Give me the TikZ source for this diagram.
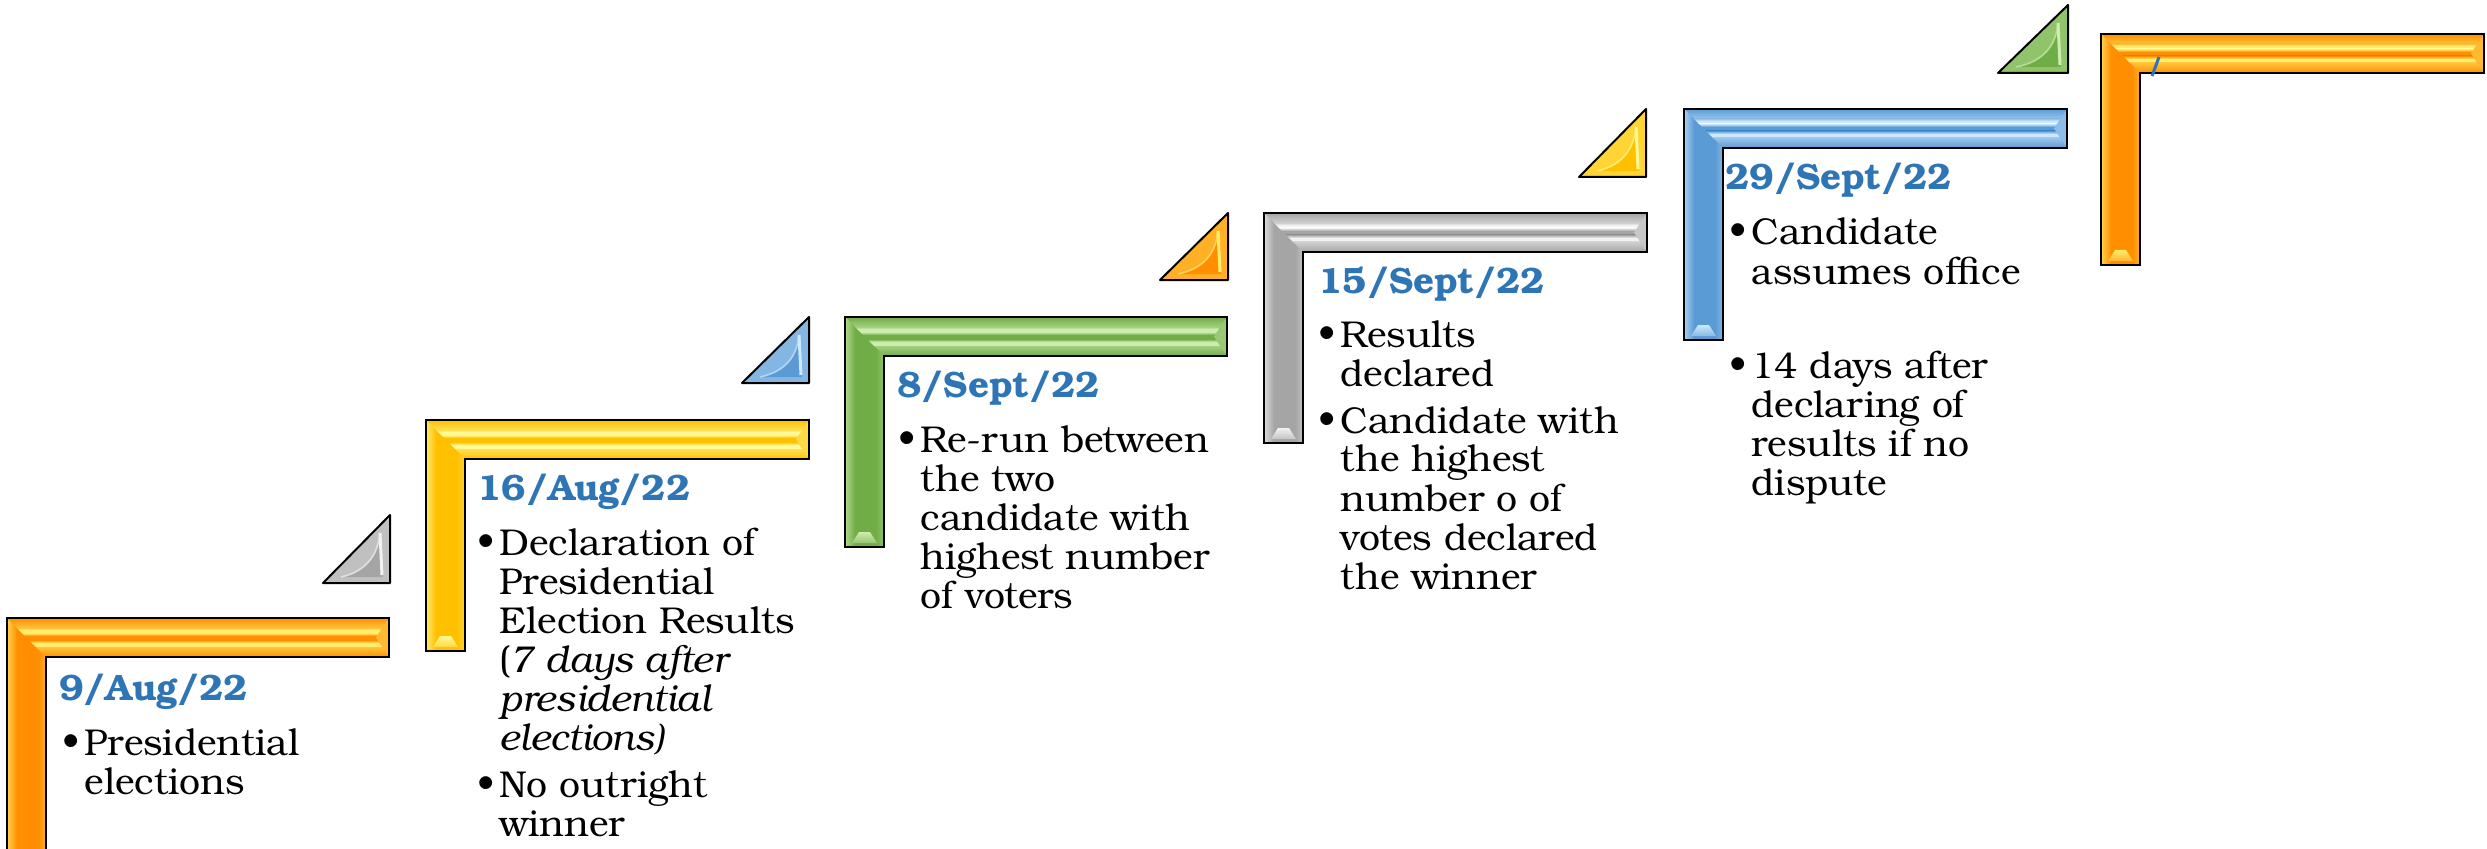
\documentclass[tikz,border=0pt]{standalone}
\usepackage{fontspec}
\setmainfont{TeX Gyre Bonum}
\definecolor{orB}{RGB}{255,143,0}\definecolor{orL}{RGB}{255,238,110}
\definecolor{yeB}{RGB}{255,192,0}\definecolor{yeL}{RGB}{255,250,150}
\definecolor{grB}{RGB}{112,173,71}\definecolor{grL}{RGB}{205,236,175}
\definecolor{gyB}{RGB}{165,165,165}\definecolor{gyL}{RGB}{242,242,242}
\definecolor{blB}{RGB}{91,155,213}\definecolor{blL}{RGB}{205,232,252}
\definecolor{datecol}{RGB}{46,117,182}
\newcommand\bu{\makebox[6.6pt][l]{\textbullet}}
% L-shaped bevelled bar: #1 x0, #2 y0, #3 x1, #4 ybottom, #5 base, #6 light
\newcommand\DrawL[6]{%
  \fill[#5] (#1,#2) -- (#3,#2) -- (#3,{#2+39}) -- ({#1+39},{#2+39}) -- ({#1+39},#4) -- (#1,#4) -- cycle;
  \begin{scope}
    \clip (#1,#2) -- (#3,#2) -- ({#3-13},{#2+19.5}) -- (#3,{#2+39}) -- ({#1+39},{#2+39}) -- cycle;
    \shade[top color=#5, bottom color=#6!55!#5] (#1,#2) rectangle (#3,{#2+10});
    \shade[top color=#6!55!#5, bottom color=#6] (#1,{#2+10}) rectangle (#3,{#2+12});
    \fill[#6] (#1,{#2+12}) rectangle (#3,{#2+15});
    \shade[top color=#6, bottom color=#5] (#1,{#2+15}) rectangle (#3,{#2+18});
    \shade[top color=#5, bottom color=#6] (#1,{#2+22}) rectangle (#3,{#2+25});
    \fill[#6] (#1,{#2+25}) rectangle (#3,{#2+29});
    \shade[top color=#6!55!#5, bottom color=#5] (#1,{#2+29}) rectangle (#3,{#2+39});
  \end{scope}
  \fill[#6!45!#5] (#3,#2) -- ({#3-13},{#2+19.5}) -- (#3,{#2+39}) -- cycle;
  \begin{scope}
    \clip (#1,#2) -- ({#1+39},{#2+39}) -- ({#1+39},#4) -- (#1,#4) -- cycle;
    \shade[left color=#6!70!#5, right color=#5] (#1,#2) rectangle ({#1+10},#4);
    \shade[left color=#5, right color=#6!35!#5] ({#1+31},#2) rectangle ({#1+39},#4);
  \end{scope}
  \shade[top color=#6, bottom color=#6!40!#5] ({#1+14},{#4-15}) -- ({#1+25},{#4-15}) -- ({#1+32},{#4-4}) -- ({#1+7},{#4-4}) -- cycle;
  \draw[line width=0.6pt, black] (#1,#2) -- (#3,#2) -- (#3,{#2+39}) -- ({#1+39},{#2+39}) -- ({#1+39},#4) -- (#1,#4) -- cycle;
}
% right triangle: #1 left, #2 top, #3 right, #4 bottom, #5 base, #6 light
\newcommand\DrawT[6]{%
  \fill[#6!35!#5] (#1,#4) -- (#3,#2) -- (#3,#4) -- cycle;
  \fill[#5] ({#1+18},{#4-6}) .. controls ({#3-22},{#4-12}) and ({#3-12},{#2+38}) .. ({#3-10},{#2+18}) -- ({#3-7},{#4-6}) -- cycle;
  \draw[#6!75!#5, line width=0.5pt] ({#1+18},{#4-6}) .. controls ({#3-22},{#4-12}) and ({#3-12},{#2+38}) .. ({#3-10},{#2+18});
  \draw[#6, line width=0.9pt] ({#3-10},{#2+18}) -- ({#3-8},{#4-8});
  \draw[line width=0.6pt, black, line join=round] (#1,#4) -- (#3,#2) -- (#3,#4) -- cycle;
}
\begin{document}
\begin{tikzpicture}[x=0.3pt, y=-0.3pt,
  datefont/.style={anchor=base west, inner sep=0pt, text=datecol, font=\fontsize{11.0}{12}\selectfont\bfseries},
  txt/.style={anchor=base west, inner sep=0pt, font=\fontsize{11.2}{11.7}\selectfont}]
\useasboundingbox (0,0) rectangle (2487,849);
\begin{scope}
\clip (0,0) rectangle (2487,849);
% bars
\DrawL{7}{618}{389}{880}{orB}{orL}
\DrawL{426}{420}{809}{651}{yeB}{yeL}
\DrawL{845}{317}{1227}{547}{grB}{grL}
\DrawL{1264}{213}{1647}{443}{gyB}{gyL}
\DrawL{1684}{109}{2067}{340}{blB}{blL}
\DrawL{2101}{34}{2484}{265}{orB}{orL}
% triangles
\DrawT{323}{515}{390}{583}{gyB}{gyL}
\DrawT{742}{317}{809}{383}{blB}{blL}
\DrawT{1160}{213}{1228}{280}{orB}{orL}
\DrawT{1579}{109}{1646}{177}{yeB}{yeL}
\DrawT{1998}{5}{2068}{73}{grB}{grL}
\end{scope}
% stray mark
\coordinate (m1) at (2152,76);
\coordinate (m2) at (2159,57);
\draw[datecol, line width=0.9pt] (m1) -- (m2);
% dates
\node[datefont] (d1) at (59,700) {9/Aug/22};
\node[datefont] (d2) at (477,500) {16/Aug/22};
\node[datefont] (d3) at (897,397) {8/Sept/22};
\node[datefont] (d4) at (1318,293) {15/Sept/22};
\node[datefont] (d5) at (1725,190) {29/Sept/22};
% bullets
\node[txt] (t1) at (62,755) {\begin{tabular}[t]{@{}l@{}l@{}}\bu&Presidential\\&elections\end{tabular}};
\node[txt] (t2) at (477,555) {\begin{tabular}[t]{@{}l@{}l@{}}\bu&Declaration of\\&Presidential\\&Election Results\\&(\textit{7 days after}\\&\textit{presidential}\\&\textit{elections)}\\[2.4pt]\bu&No outright\\&winner\end{tabular}};
\node[txt] (t3) at (898,452) {\begin{tabular}[t]{@{}l@{}l@{}}\bu&Re-run between\\&the two\\&candidate with\\&highest number\\&of voters\end{tabular}};
\node[txt] (t4) at (1318,348) {\begin{tabular}[t]{@{}l@{}l@{}}\bu&Results\\&declared\\[2.1pt]\bu&Candidate with\\&the highest\\&number o of\\&votes declared\\&the winner\end{tabular}};
\node[txt] (t5) at (1729,245) {\begin{tabular}[t]{@{}l@{}l@{}}\bu&Candidate\\&assumes office\\[16.5pt]\bu&14 days after\\&declaring of\\&results if no\\&dispute\end{tabular}};
\end{tikzpicture}
\end{document}
